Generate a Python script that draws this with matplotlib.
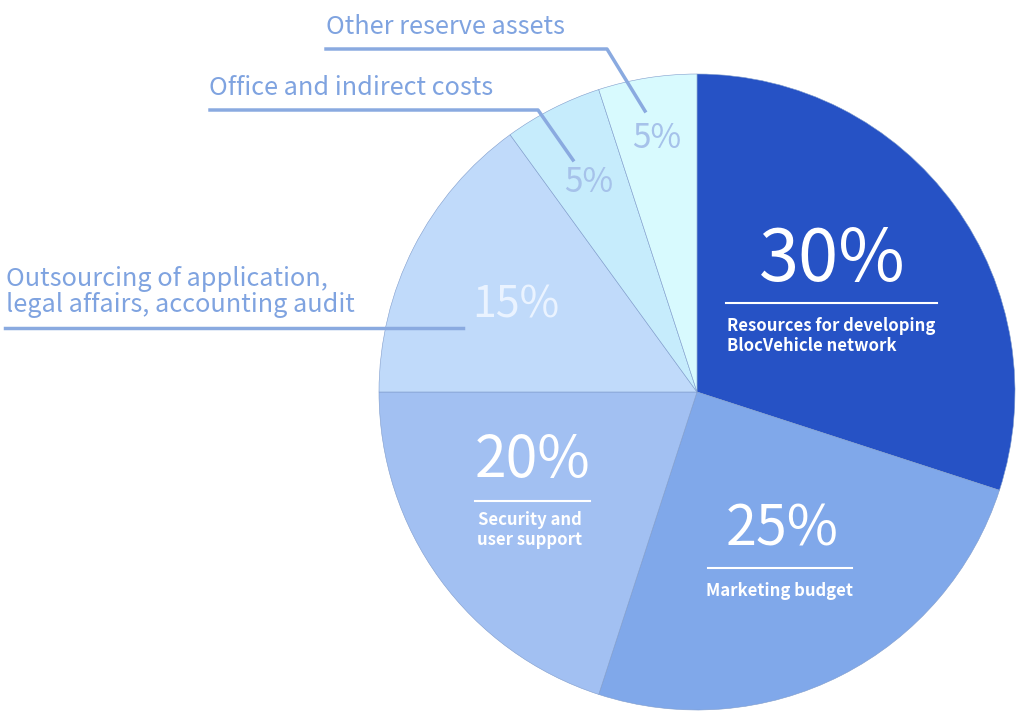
import matplotlib.pyplot as plt

plt.rcParams['font.family'] = ['Noto Sans CJK KR', 'DejaVu Sans']

# data (clockwise from the top)
shares = [30, 25, 20, 15, 5, 5]
pct_labels = ['30%', '25%', '20%', '15%', '5%', '5%']
names = ['Resources for developing\nBlocVehicle network', 'Marketing budget',
         'Security and\nuser support',
         'Outsourcing of application,\nlegal affairs, accounting audit',
         'Office and indirect costs', 'Other reserve assets']
colors = ['#2652c5', '#80a8ea', '#a2c0f2', '#c0dafa', '#c6ecfc', '#d8fafe']

W, H = 1024, 719
fig = plt.figure(figsize=(W / 100, H / 100), dpi=100)
ax = fig.add_axes([0, 0, 1, 1])


def Y(py):
    # pixel row -> data y
    return H - py


ax.pie(shares, colors=colors, startangle=90, counterclock=False,
       center=(697, Y(392)), radius=318, frame=True,
       wedgeprops=dict(edgecolor='#7f9ccc', linewidth=0.4))
ax.set_xlim(0, W)
ax.set_ylim(0, H)
ax.set_aspect('equal')
ax.axis('off')

white = '#ffffff'
line_c = '#8aaae0'
txt_c = '#7fa3e0'
light_pct = '#a6c2ea'

# 30%
ax.text(832, Y(261), pct_labels[0], color=white, fontsize=52, ha='center', va='center')
ax.plot([726, 937], [Y(303), Y(303)], color=white, lw=1.5)
ax.text(727, Y(336), names[0], color=white, fontsize=12, fontweight='bold',
        ha='left', va='center', linespacing=1.2)

# 25%
ax.text(782, Y(530), pct_labels[1], color=white, fontsize=40, ha='center', va='center')
ax.plot([708, 852], [Y(568), Y(568)], color=white, lw=1.5)
ax.text(780, Y(591), names[1], color=white, fontsize=12, fontweight='bold',
        ha='center', va='center')

# 20%
ax.text(533, Y(461), pct_labels[2], color=white, fontsize=41, ha='center', va='center')
ax.plot([475, 590], [Y(501), Y(501)], color=white, lw=1.5)
ax.text(530, Y(530), names[2], color=white, fontsize=12, fontweight='bold',
        ha='center', va='center', linespacing=1.2)

# 15%
ax.text(516, Y(305), pct_labels[3], color='#eaf3ff', fontsize=31, ha='center', va='center')
ax.plot([5, 463], [Y(328), Y(328)], color=line_c, lw=2.5)
ax.text(6, Y(292), names[3], color=txt_c, fontsize=18.2, ha='left', va='center',
        linespacing=1.0)

# 5% office
ax.text(589, Y(183), pct_labels[4], color=light_pct, fontsize=24, ha='center', va='center')
ax.plot([210, 538, 573], [Y(110), Y(110), Y(160)], color=line_c, lw=2.5)
ax.text(209, Y(88), names[4], color=txt_c, fontsize=18.2, ha='left', va='center')

# 5% other
ax.text(657, Y(138), pct_labels[5], color=light_pct, fontsize=24, ha='center', va='center')
ax.plot([326, 607, 645], [Y(49), Y(49), Y(111)], color=line_c, lw=2.5)
ax.text(326, Y(27), names[5], color=txt_c, fontsize=18.2, ha='left', va='center')

fig.savefig('out.png', dpi=100)
